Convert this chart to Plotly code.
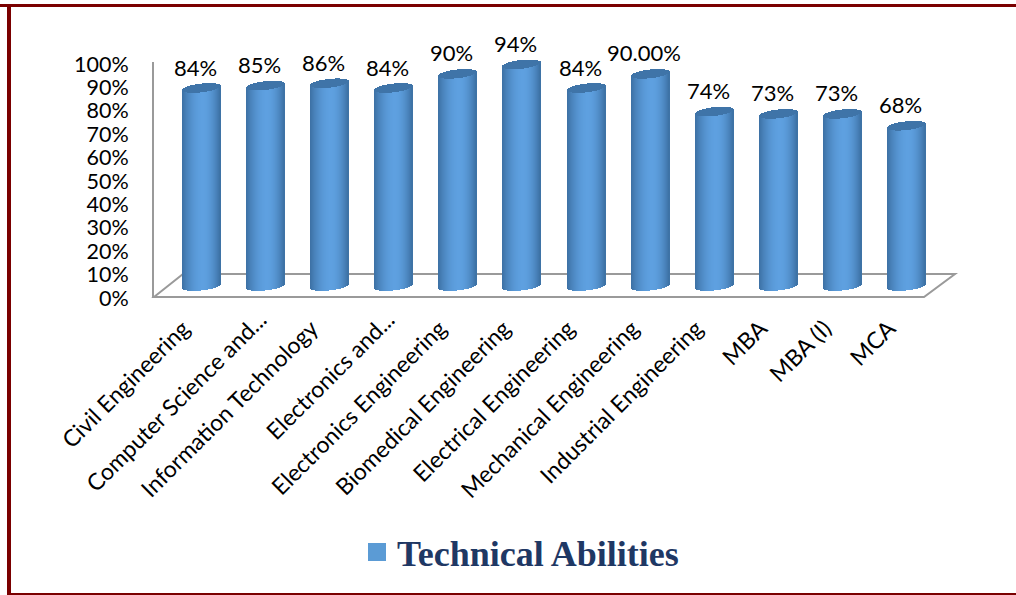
import math
import plotly.graph_objects as go

categories = ["Civil Engineering", "Computer Science and...", "Information Technology",
              "Electronics and...", "Electronics Engineering", "Biomedical Engineering",
              "Electrical Engineering", "Mechanical Engineering", "Industrial Engineering",
              "MBA", "MBA (I)", "MCA"]
values = [84, 85, 86, 84, 90, 94, 84, 90, 74, 73, 73, 68]
value_labels = ["84%", "85%", "86%", "84%", "90%", "94%", "84%", "90.00%", "74%", "73%", "73%", "68%"]
y_ticks = [0, 10, 20, 30, 40, 50, 60, 70, 80, 90, 100]
series_name = "Technical Abilities"

W, H = 1016, 595
BAR_BASE_PX = 286
PX_PER_PCT = 2.357
PLOT_TOP, PLOT_BOT = 40, 310
STRIPS = 38
BAR_W = 0.592
ELL_H = 4.4 / PX_PER_PCT
TILT = 2.0 / PX_PER_PCT
DARK = (60, 112, 163)
LIGHT = (94, 160, 224)
CAP = "#3f74a8"
FONT = "Lato"
GREY = "#9a9a9a"
BORDER = "#7a0000"


def strip_colour(u):
    t = 1 - min(1, abs(u - 0.1) / (1.1 if u < 0.1 else 0.9)) ** 1.9
    c = [round(a + (b - a) * t) for a, b in zip(DARK, LIGHT)]
    return f"rgb({c[0]},{c[1]},{c[2]})"


def px_x(p):
    return p / W


def px_y(p):
    return 1 - p / H


fig = go.Figure()
sw = BAR_W / STRIPS
idx = list(range(len(categories)))
for k in range(STRIPS):
    u = -1 + (2 * k + 1) / STRIPS
    edge = math.sqrt(max(0, 1 - u * u))
    low = TILT * u - ELL_H * edge
    off = -BAR_W / 2 + k * sw
    fig.add_bar(x=idx, y=values, base=[low] * len(values), width=sw, offset=off,
                marker=dict(color=strip_colour(u), line_width=0),
                showlegend=False, hoverinfo="skip")
    fig.add_bar(x=idx, y=[2 * ELL_H * edge] * len(values), base=[v + low for v in values],
                width=sw, offset=off, marker=dict(color=CAP, line_width=0),
                showlegend=False, hoverinfo="skip")

fig.add_scatter(x=categories, y=[None] * len(categories), xaxis="x2", yaxis="y2",
                mode="markers", name=series_name, hoverinfo="skip",
                marker=dict(symbol="square", size=16, color="#5b9bd5",
                            line=dict(color="#5b9bd5", width=2)))

for i, (v, lab) in enumerate(zip(values, value_labels)):
    fig.add_annotation(x=i, y=v, xref="x", yref="y", text=lab, showarrow=False,
                       xshift=-6, yshift=21, font=dict(family=FONT, size=22, color="black"))

# Truncated names sit further along their slant than the others.
truncated = [c for c in categories if c.endswith("...")]
for c in truncated:
    fig.add_annotation(x=c, y=px_y(302), xref="x2", yref="paper", text=c, showarrow=False,
                       textangle=-45, xanchor="right", yanchor="top", xshift=24,
                       font=dict(family=FONT, size=23, color="black"))
plain = [c for c in categories if c not in truncated]

shapes = [
    dict(type="path", xref="paper", yref="paper", layer="below",
         path=(f"M {px_x(154)} {px_y(297)} L {px_x(183)} {px_y(274)} L {px_x(955)} {px_y(274)} "
               f"L {px_x(924)} {px_y(297)} Z"),
         line=dict(color=GREY, width=2), fillcolor="white"),
    dict(type="rect", xref="paper", yref="paper", x0=px_x(0), x1=px_x(W), y0=px_y(4), y1=px_y(7),
         line_width=0, fillcolor=BORDER),
    dict(type="rect", xref="paper", yref="paper", x0=px_x(7), x1=px_x(11), y0=px_y(4), y1=px_y(595),
         line_width=0, fillcolor=BORDER),
    dict(type="rect", xref="paper", yref="paper", x0=px_x(7), x1=px_x(W), y0=px_y(593), y1=px_y(595),
         line_width=0, fillcolor=BORDER),
]

fig.update_layout(
    width=W, height=H, margin=dict(l=0, r=0, t=0, b=0),
    paper_bgcolor="white", plot_bgcolor="rgba(0,0,0,0)",
    barmode="overlay", shapes=shapes, bargap=0,
    xaxis=dict(domain=[px_x(169), px_x(939)], range=[-0.5, 11.5], visible=False, anchor="y"),
    yaxis=dict(domain=[px_y(PLOT_BOT), px_y(PLOT_TOP)],
               range=[(BAR_BASE_PX - PLOT_BOT) / PX_PER_PCT, (BAR_BASE_PX - PLOT_TOP) / PX_PER_PCT],
               visible=False, anchor="x"),
    xaxis2=dict(domain=[px_x(154), px_x(924)], anchor="y2", type="category",
                categoryorder="array", categoryarray=categories, range=[-0.5, 11.5],
                tickvals=plain, ticktext=plain, tickangle=-45, showgrid=False,
                showline=True, linecolor=GREY, linewidth=2, ticks="",
                ticklabelstandoff=8, ticklabelshift=-3,
                tickfont=dict(family=FONT, size=23, color="black"), automargin=False),
    yaxis2=dict(domain=[px_y(296), px_y(62)], anchor="x2", range=[0, 100], tickvals=y_ticks,
                ticktext=[f"{t}%" for t in y_ticks], showgrid=False, zeroline=False,
                showline=True, linecolor=GREY, linewidth=2,
                ticks="outside", ticklen=19, tickcolor="rgba(0,0,0,0)", ticklabelshift=2,
                tickfont=dict(family=FONT, size=21.5, color="black"), automargin=False),
    showlegend=True,
    legend=dict(x=px_x(357), y=px_y(552), xanchor="left", yanchor="middle",
                font=dict(family="Liberation Serif", size=36, color="#1f3864", weight="bold"),
                bgcolor="rgba(0,0,0,0)", itemclick=False, itemdoubleclick=False),
)

fig.write_html("out.html", post_script="document.body.style.margin='0';", config={"displayModeBar": False})
